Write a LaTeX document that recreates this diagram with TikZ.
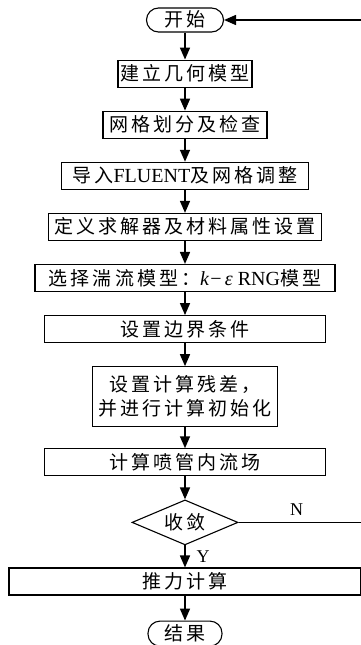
\documentclass[tikz,border=0pt]{standalone}
\usepackage{fontspec}
\setmainfont{Liberation Serif}
\newfontfamily\cjk[LetterSpace=16]{Noto Sans CJK SC}
\newcommand{\en}[1]{{\rmfamily\fontsize{20}{22}\selectfont #1}}
\usetikzlibrary{positioning, arrows.meta, shapes.geometric, calc}

\begin{document}
\begin{tikzpicture}[
    x=1pt, y=1pt,
    node distance=23pt,
    proc/.style={rectangle, draw, line width=1.1pt, minimum height=27pt, inner xsep=2pt, inner ysep=4pt, text height=16.5pt, text depth=2.5pt, align=center, font=\cjk\fontsize{19}{24}\selectfont},
    twoline/.style={proc, text height=, text depth=, inner ysep=2pt, minimum height=60pt},
    term/.style={proc, rounded corners=12pt, minimum height=24pt, inner ysep=2pt},
    decide/.style={diamond, draw, line width=1.1pt, aspect=2.35, minimum width=106pt, minimum height=45pt, inner sep=0pt, text height=16.5pt, text depth=2.5pt, font=\cjk\fontsize{19}{24}\selectfont},
    lbl/.style={font=\fontsize{18}{20}\selectfont},
    arrow/.style={-{Triangle[length=12pt,width=10pt]}, line width=1.6pt}
  ]
  \useasboundingbox (0,0) rectangle (361,-645);
  \clip (0,0) rectangle (361,-645);

  % Start
  \node[term, minimum width=77pt] (start) at (185,-20) {开始};

  % Pre-processing
  \node[proc, minimum width=134pt, below=27pt of start] (geom) {建立几何模型};
  \node[proc, minimum width=164pt, below=of geom] (mesh) {网格划分及检查};
  \node[proc, minimum width=247pt, below=of mesh] (fluent) {导入\en{FLUENT}及网格调整};
  \node[proc, minimum width=273pt, below=of fluent] (solver) {定义求解器及材料属性设置};
  \node[proc, minimum width=300pt, below=of solver] (turb) {选择湍流模型：\en{\textit{k}\kern1pt−\,\textit{ε} RNG}模型};
  \node[proc, minimum width=281pt, below=of turb] (bc) {设置边界条件};
  \node[twoline, minimum width=185pt, below=of bc] (init) {设置计算残差，\\并进行计算初始化};

  % Solving
  \node[proc, minimum width=281pt, below=21pt of init] (flow) {计算喷管内流场};
  \node[decide, below=of flow] (conv) {收敛};
  \node[proc, minimum width=352pt, below=22pt of conv] (thrust) {推力计算};
  \node[term, minimum width=74pt, minimum height=25pt, below=25pt of thrust] (result) {结果};

  % Loop back
  \coordinate[right=125pt of conv.east] (turn);

  % Labels
  \node[lbl] (nlab) at ($(conv.east)+(58,13)$) {N};
  \node[lbl] (ylab) at ($(conv.south)+(18,-11)$) {Y};

  % Arrows
  \draw[arrow] (start) -- (geom);
  \draw[arrow] (geom) -- (mesh);
  \draw[arrow] (mesh) -- (fluent);
  \draw[arrow] (fluent) -- (solver);
  \draw[arrow] (solver) -- (turb);
  \draw[arrow] (turb) -- (bc);
  \draw[arrow] (bc) -- (init);
  \draw[arrow] (init) -- (flow);
  \draw[arrow] (flow) -- (conv);
  \draw[arrow] (conv) -- (thrust);
  \draw[arrow] (thrust) -- (result);
  \draw[arrow] (conv.east) -- (turn) |- (start.east);
\end{tikzpicture}
\end{document}
